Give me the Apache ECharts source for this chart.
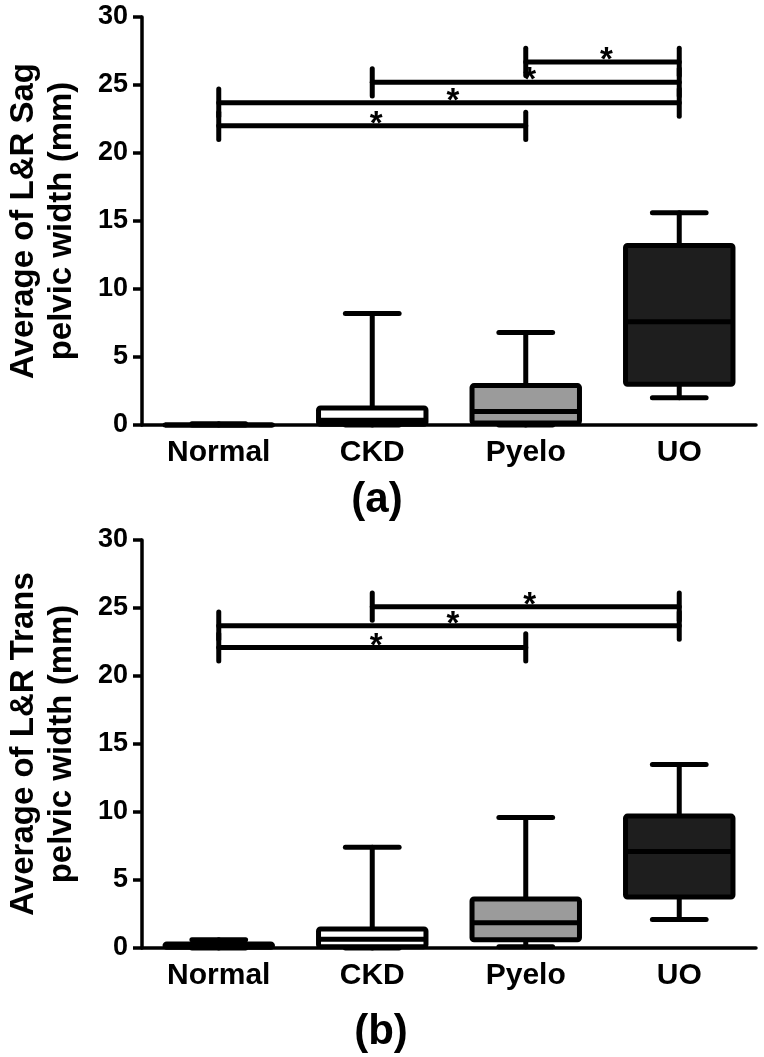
<!DOCTYPE html>
<html><head><meta charset="utf-8">
<script src="https://cdn.jsdelivr.net/npm/echarts@6/dist/echarts.min.js"></script>
<style>html,body{margin:0;padding:0;background:#fff}#c{width:764px;height:1057px}</style>
</head><body><div id="c"></div>
<script>
const categories = ['Normal', 'CKD', 'Pyelo', 'UO'];
// each box: [min, Q1, median, Q3, max]
const sagNormal = [0, 0, 0, 0, 0.1];
const sagCKD = [0, 0.05, 0.35, 1.25, 8.2];
const sagPyelo = [0, 0.15, 1.0, 2.9, 6.8];
const sagUO = [2.0, 3.0, 7.6, 13.2, 15.6];
const transNormal = [0, 0.05, 0.2, 0.3, 0.6];
const transCKD = [0, 0.1, 0.65, 1.4, 7.4];
const transPyelo = [0.1, 0.6, 1.85, 3.6, 9.6];
const transUO = [2.1, 3.75, 7.1, 9.7, 13.5];
const boxFills = ['#ffffff', '#ffffff', '#9b9b9b', '#1e1e1e'];
// significance brackets: [fromIndex, toIndex, height]
const sagBrackets = [[0, 2, 22.0], [0, 3, 23.7], [1, 3, 25.2], [2, 3, 26.7]];
const transBrackets = [[0, 2, 22.1], [0, 3, 23.7], [1, 3, 25.1]];
const yMin = 0, yMax = 30, yStep = 5;
const sagTitle = 'Average of L&R Sag\npelvic width (mm)';
const transTitle = 'Average of L&R Trans\npelvic width (mm)';
const panelLabels = ['(a)', '(b)'];

const FONT = 'Liberation Sans, Arial, sans-serif';
const sagBoxes = [sagNormal, sagCKD, sagPyelo, sagUO];
const transBoxes = [transNormal, transCKD, transPyelo, transUO];

function renderBox(params, api) {
  const i = api.value(0);
  const cx = api.coord([i, 0])[0];
  const w = api.size([1, 0])[0] * 0.7;
  const y = k => api.coord([i, api.value(k)])[1];
  const yMn = y(1), yQ1 = y(2), yMd = y(3), yQ3 = y(4), yMx = y(5);
  const ls = { stroke: '#000', lineWidth: 5, lineCap: 'round' };
  return {
    type: 'group',
    children: [
      { type: 'line', shape: { x1: cx, y1: yQ1, x2: cx, y2: yMn }, style: ls },
      { type: 'line', shape: { x1: cx, y1: yQ3, x2: cx, y2: yMx }, style: ls },
      { type: 'line', shape: { x1: cx - w / 4, y1: yMn, x2: cx + w / 4, y2: yMn }, style: ls },
      { type: 'line', shape: { x1: cx - w / 4, y1: yMx, x2: cx + w / 4, y2: yMx }, style: ls },
      { type: 'rect', shape: { x: cx - w / 2, y: yQ3, width: w, height: Math.max(yQ1 - yQ3, 0.01), r: 2 },
        style: { fill: boxFills[params.dataIndex], stroke: '#000', lineWidth: 5 } },
      { type: 'line', shape: { x1: cx - w / 2, y1: yMd, x2: cx + w / 2, y2: yMd }, style: { stroke: '#000', lineWidth: 5 } }
    ]
  };
}

function renderBracket(params, api) {
  const a = api.coord([api.value(0), api.value(2)]);
  const b = api.coord([api.value(1), api.value(2)]);
  const h = api.size([0, 1])[1];
  const ls = { stroke: '#000', lineWidth: 5, lineCap: 'round' };
  return {
    type: 'group',
    children: [
      { type: 'line', shape: { x1: a[0], y1: a[1], x2: b[0], y2: b[1] }, style: ls },
      { type: 'line', shape: { x1: a[0], y1: a[1] - h, x2: a[0], y2: a[1] + h }, style: ls },
      { type: 'line', shape: { x1: b[0], y1: b[1] - h, x2: b[0], y2: b[1] + h }, style: ls },
      { type: 'text', style: { text: '*', x: (a[0] + b[0]) / 2 + 4, y: a[1] - 1, fill: '#000',
        font: 'bold 33px ' + FONT, align: 'center', verticalAlign: 'middle' } }
    ]
  };
}

function xAxisFor(g) {
  return {
    type: 'category', gridIndex: g, data: categories,
    axisLine: { lineStyle: { color: '#000', width: 3.5 } },
    axisTick: { alignWithLabel: true, length: 11, lineStyle: { color: '#000', width: 3.5 } },
    axisLabel: { color: '#000', fontWeight: 'bold', fontSize: 30, fontFamily: FONT, margin: 13 },
    splitLine: { show: false }
  };
}
function yAxisFor(g, name) {
  return {
    type: 'value', gridIndex: g, min: yMin, max: yMax, interval: yStep,
    axisLine: { show: true, lineStyle: { color: '#000', width: 3.5 } },
    axisTick: { show: true, length: 9, lineStyle: { color: '#000', width: 3.5 } },
    axisLabel: { color: '#000', fontWeight: 'bold', fontSize: 27, fontFamily: FONT, margin: 14 },
    splitLine: { show: false },
    name: name, nameLocation: 'middle', nameGap: 61,
    nameTextStyle: { color: '#000', fontWeight: 'bold', fontSize: 33, fontFamily: FONT, lineHeight: 38 }
  };
}

const chart = echarts.init(document.getElementById('c'), null, { renderer: 'canvas' });
chart.setOption({
  animation: false,
  backgroundColor: '#fff',
  title: [
    { text: panelLabels[0], left: 372, top: 474, textAlign: 'center',
      textStyle: { color: '#000', fontSize: 42, fontWeight: 'bold', fontFamily: FONT } },
    { text: panelLabels[1], left: 376, top: 1006, textAlign: 'center',
      textStyle: { color: '#000', fontSize: 42, fontWeight: 'bold', fontFamily: FONT } }
  ],
  grid: [
    { left: 142, top: 17, width: 614, height: 408, containLabel: false, outerBoundsMode: 'none' },
    { left: 142, top: 540, width: 614, height: 408, containLabel: false, outerBoundsMode: 'none' }
  ],
  xAxis: [xAxisFor(0), xAxisFor(1)],
  yAxis: [yAxisFor(0, sagTitle), yAxisFor(1, transTitle)],
  series: [
    { type: 'custom', xAxisIndex: 0, yAxisIndex: 0, renderItem: renderBox,
      encode: { x: 0, y: [1, 2, 3, 4, 5] }, data: sagBoxes.map((b, i) => [i].concat(b)) },
    { type: 'custom', xAxisIndex: 1, yAxisIndex: 1, renderItem: renderBox,
      encode: { x: 0, y: [1, 2, 3, 4, 5] }, data: transBoxes.map((b, i) => [i].concat(b)) },
    { type: 'custom', xAxisIndex: 0, yAxisIndex: 0, renderItem: renderBracket,
      encode: { x: [0, 1], y: 2 }, data: sagBrackets },
    { type: 'custom', xAxisIndex: 1, yAxisIndex: 1, renderItem: renderBracket,
      encode: { x: [0, 1], y: 2 }, data: transBrackets }
  ]
});
</script>
</body></html>
